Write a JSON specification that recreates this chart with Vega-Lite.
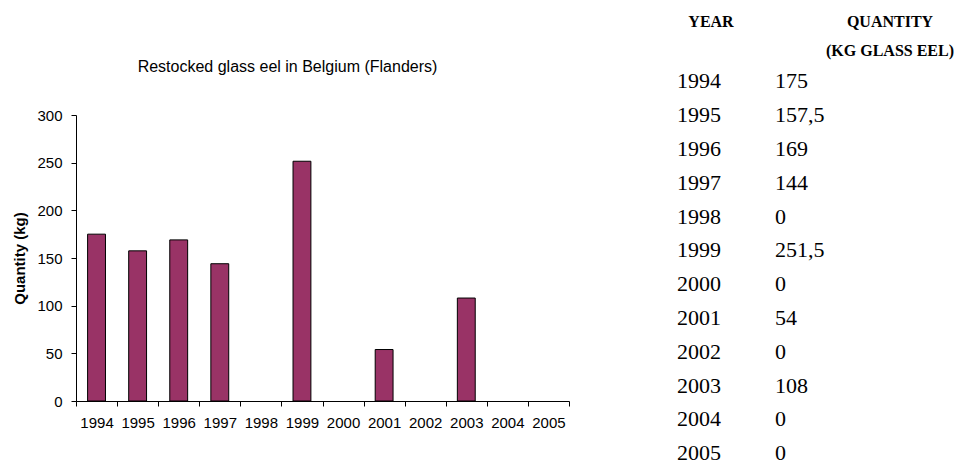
{
  "$schema": "https://vega.github.io/schema/vega-lite/v6.json",
  "background": "white",
  "padding": {"left": 12, "top": 13, "right": 0, "bottom": 0},
  "spacing": 107,
  "datasets": {
    "eel": [
      {"year": 1994, "quantity": 175},
      {"year": 1995, "quantity": 157.5},
      {"year": 1996, "quantity": 169},
      {"year": 1997, "quantity": 144},
      {"year": 1998, "quantity": 0},
      {"year": 1999, "quantity": 251.5},
      {"year": 2000, "quantity": 0},
      {"year": 2001, "quantity": 54},
      {"year": 2002, "quantity": 0},
      {"year": 2003, "quantity": 108},
      {"year": 2004, "quantity": 0},
      {"year": 2005, "quantity": 0}
    ],
    "header": [
      {"row": "h1", "col": "Year", "label": "YEAR"},
      {"row": "h1", "col": "Quantity", "label": "QUANTITY"},
      {"row": "h2", "col": "Quantity", "label": "(KG GLASS EEL)"}
    ]
  },
  "config": {
    "view": {"stroke": null},
    "locale": {"number": {"decimal": ",", "thousands": ".", "grouping": [3], "currency": ["", " €"]}},
    "axis": {
      "domainColor": "#000000",
      "tickColor": "#000000",
      "labelColor": "#000000",
      "titleColor": "#000000",
      "labelFont": "Liberation Sans",
      "titleFont": "Liberation Sans",
      "labelFontSize": 15,
      "titleFontSize": 15,
      "tickSize": 5,
      "grid": false
    },
    "title": {"font": "Liberation Sans", "fontSize": 16, "fontWeight": "normal", "color": "#000000"}
  },
  "hconcat": [
    {
      "width": 493,
      "height": 286,
      "title": {"text": "Restocked glass eel in Belgium (Flanders)", "anchor": "middle", "dx": -35, "offset": 33},
      "data": {"name": "eel"},
      "transform": [{"filter": "datum.quantity > 0"}],
      "mark": {"type": "bar", "color": "#993366", "stroke": "#000000", "strokeWidth": 1, "width": {"band": 0.435}},
      "encoding": {
        "x": {
          "field": "year",
          "type": "ordinal",
          "scale": {"domain": [1994, 1995, 1996, 1997, 1998, 1999, 2000, 2001, 2002, 2003, 2004, 2005], "paddingInner": 0, "paddingOuter": 0},
          "axis": {"title": null, "labelAngle": 0, "tickBand": "extent", "labelPadding": 9}
        },
        "y": {
          "field": "quantity",
          "type": "quantitative",
          "scale": {"domain": [0, 300], "nice": false},
          "axis": {"title": "Quantity (kg)", "titleFontWeight": "bold", "values": [0, 50, 100, 150, 200, 250, 300], "labelPadding": 9, "titlePadding": 9}
        }
      }
    },
    {
      "width": 98,
      "height": 286,
      "encoding": {
        "y": {"scale": {"type": "point", "domain": ["h1", "h2", 1994, 1995, 1996, 1997, 1998, 1999, 2000, 2001, 2002, 2003, 2004, 2005], "range": [-101.3, 338.3], "padding": 0}, "axis": null}
      },
      "layer": [
        {
          "data": {"name": "eel"},
          "mark": {"type": "text", "align": "left", "baseline": "middle", "font": "Liberation Serif", "fontSize": 22, "color": "#000000"},
          "encoding": {
            "x": {"datum": "Year", "type": "nominal", "scale": {"type": "point", "domain": ["Year", "Quantity"], "padding": 0}, "axis": null},
            "y": {"field": "year", "type": "ordinal"},
            "text": {"field": "year", "type": "nominal"}
          }
        },
        {
          "data": {"name": "eel"},
          "mark": {"type": "text", "align": "left", "baseline": "middle", "font": "Liberation Serif", "fontSize": 22, "color": "#000000"},
          "encoding": {
            "x": {"datum": "Quantity", "type": "nominal"},
            "y": {"field": "year", "type": "ordinal"},
            "text": {"field": "quantity", "type": "quantitative", "format": ".1~f"}
          }
        },
        {
          "data": {"name": "header"},
          "transform": [{"filter": "datum.col === 'Year'"}],
          "mark": {"type": "text", "align": "center", "baseline": "middle", "font": "Liberation Serif", "fontSize": 16, "fontWeight": "bold", "color": "#000000", "dx": 34, "dy": 8},
          "encoding": {
            "x": {"field": "col", "type": "nominal"},
            "y": {"field": "row", "type": "ordinal"},
            "text": {"field": "label", "type": "nominal"}
          }
        },
        {
          "data": {"name": "header"},
          "transform": [{"filter": "datum.col === 'Quantity' && datum.row === 'h1'"}],
          "mark": {"type": "text", "align": "center", "baseline": "middle", "font": "Liberation Serif", "fontSize": 16, "fontWeight": "bold", "color": "#000000", "dx": 115, "dy": 8},
          "encoding": {
            "x": {"field": "col", "type": "nominal"},
            "y": {"field": "row", "type": "ordinal"},
            "text": {"field": "label", "type": "nominal"}
          }
        },
        {
          "data": {"name": "header"},
          "transform": [{"filter": "datum.col === 'Quantity' && datum.row === 'h2'"}],
          "mark": {"type": "text", "align": "center", "baseline": "middle", "font": "Liberation Serif", "fontSize": 16, "fontWeight": "bold", "color": "#000000", "dx": 115, "dy": 3},
          "encoding": {
            "x": {"field": "col", "type": "nominal"},
            "y": {"field": "row", "type": "ordinal"},
            "text": {"field": "label", "type": "nominal"}
          }
        }
      ]
    }
  ]
}
